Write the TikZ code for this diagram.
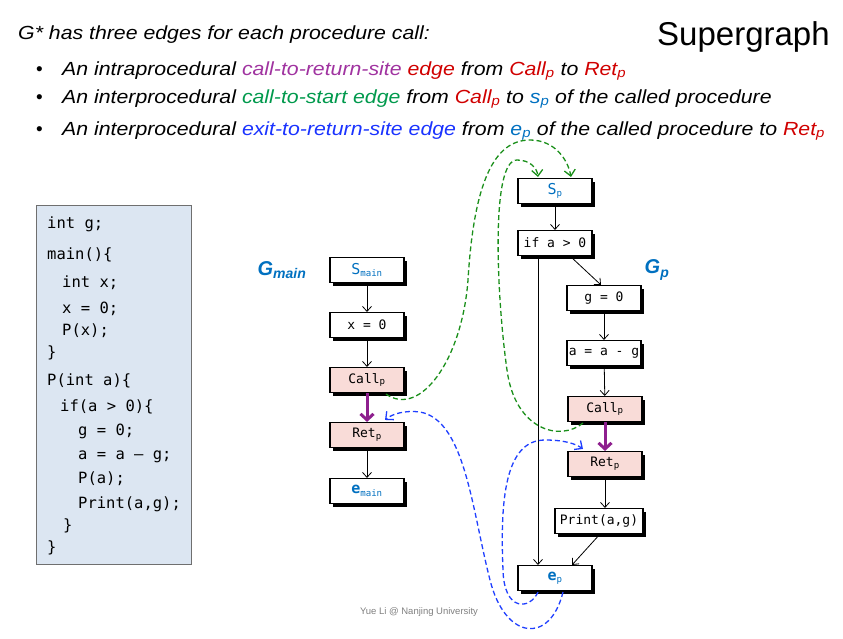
\documentclass[tikz,border=0pt]{standalone}
\usepackage{fontspec}
\setmainfont{Liberation Sans}
\newfontfamily\hdfont[FakeStretch=1.12]{Liberation Sans}
\newfontfamily\codefont{DejaVu Sans Mono}
\usetikzlibrary{arrows.meta,calc}
\definecolor{tpurple}{HTML}{A033A0}
\definecolor{tred}{HTML}{D00000}
\definecolor{tgreen}{HTML}{00994C}
\definecolor{tblue}{HTML}{0070C0}
\definecolor{tbright}{HTML}{1A33FF}
\definecolor{egreen}{HTML}{1A8F1A}
\definecolor{eblue}{HTML}{1F3FFF}
\definecolor{epurple}{HTML}{8E1F8E}
\definecolor{pinkfill}{HTML}{F9DCD8}
\definecolor{codefill}{HTML}{DCE6F2}
\definecolor{codeborder}{HTML}{6F6F6F}
\tikzset{
  txt/.style={inner sep=0pt, anchor=base west},
  hdtext/.style={txt, font=\fontsize{19}{22}\hdfont\itshape},
  codeline/.style={inner sep=0pt, anchor=base west, font=\fontsize{15.5}{17}\codefont},
  stmt/.style={draw=black, line width=1.1pt, fill=white, minimum width=74pt, minimum height=25pt, inner sep=1pt,
    font=\fontsize{13}{14}\codefont,
    preaction={draw=none, fill=black, transform canvas={xshift=3pt, yshift=-3pt}}},
  callbox/.style={stmt, fill=pinkfill},
  flow/.style={-{Straight Barb[length=5pt,width=9pt]}, line width=0.8pt, black},
  cte/.style={-{Straight Barb[length=6pt,width=13pt]}, line width=3pt, epurple},
  green dash/.style={-{Straight Barb[length=6pt,width=11pt, line width=1.3pt]}, line width=1.3pt, egreen, dash pattern=on 5pt off 3pt},
  blue dash/.style={-{Straight Barb[length=6pt,width=11pt, line width=1.3pt]}, line width=1.3pt, eblue, dash pattern=on 5pt off 3pt},
  glabel/.style={inner sep=0pt, text=tblue, font=\fontsize{20}{22}\selectfont\bfseries\itshape}
}
\newcommand{\sub}[1]{\textsubscript{#1}}
\begin{document}
\begin{tikzpicture}[x=1pt,y=-1pt]
\useasboundingbox (0,0) rectangle (843,638);

% header text
\node[hdtext] (title) at (18,39) {G* has three edges for each procedure call:};
\node[txt, font=\fontsize{33}{36}\selectfont] (super) at (657,45) {Supergraph};
\node[txt, font=\fontsize{19}{22}\selectfont] (b1) at (36,75) {•};
\node[txt, font=\fontsize{19}{22}\selectfont] (b2) at (36,103) {•};
\node[txt, font=\fontsize{19}{22}\selectfont] (b3) at (36,135) {•};
\node[hdtext] (l1) at (62,75) {An intraprocedural \textcolor{tpurple}{call-to-return-site} \textcolor{tred}{edge} from \textcolor{tred}{Call\sub{p}} to \textcolor{tred}{Ret\sub{p}}};
\node[hdtext] (l2) at (62,103) {An interprocedural \textcolor{tgreen}{call-to-start edge} from \textcolor{tred}{Call\sub{p}} to \textcolor{tblue}{s\sub{p}} of the called procedure};
\node[hdtext] (l3) at (62,135) {An interprocedural \textcolor{tbright}{exit-to-return-site edge} from \textcolor{tblue}{e\sub{p}} of the called procedure to \textcolor{tred}{Ret\sub{p}}};

% code box
\node[draw=codeborder, line width=1pt, fill=codefill, minimum width=155pt, minimum height=359pt, inner sep=0pt] (codebox) at (113.5,384.5) {};
\node[codeline] (c1) at (47,228) {int g;};
\node[codeline] (c2) at (47,259) {main()\{};
\node[codeline] (c3) at (62,287) {int x;};
\node[codeline] (c4) at (62,313) {x = 0;};
\node[codeline] (c5) at (62,335) {P(x);};
\node[codeline] (c6) at (47,357) {\}};
\node[codeline] (c7) at (47,385) {P(int a)\{};
\node[codeline] (c8) at (60,411) {if(a > 0)\{};
\node[codeline] (c9) at (78,435) {g = 0;};
\node[codeline] (c10) at (78,459) {a = a – g;};
\node[codeline] (c11) at (78,483) {P(a);};
\node[codeline] (c12) at (78,508) {Print(a,g);};
\node[codeline] (c13) at (63,530) {\}};
\node[codeline] (c14) at (47,552) {\}};

% labels
\node[glabel] (gmain) at (282,270) {G\textsubscript{main}};
\node[glabel] (gp) at (657,270) {G\textsubscript{p}};

% G_main nodes
\node[stmt] (smain) at (367,270) {\textcolor{tblue}{{\fontsize{15}{15}\selectfont S}\sub{main}}};
\node[stmt] (x0) at (367,325) {x = 0};
\node[callbox] (mcall) at (367,380) {Call\sub{p}};
\node[callbox] (mret) at (367,435) {Ret\sub{p}};
\node[stmt] (emain) at (367,491) {\textcolor{tblue}{{\fontsize{15}{15}\selectfont\bfseries e}\sub{main}}};

% G_p nodes
\node[stmt] (sp) at (555,191) {\textcolor{tblue}{{\fontsize{15}{15}\selectfont S}\sub{p}}};
\node[stmt] (ifa) at (555,243) {if a > 0};
\node[stmt] (g0) at (604,298) {g = 0};
\node[stmt] (aag) at (604,353) {a = a - g};
\node[callbox] (gcall) at (605,409) {Call\sub{p}};
\node[callbox] (gret) at (605,464) {Ret\sub{p}};
\node[stmt, minimum width=88pt] (prt) at (599,521) {Print(a,g)};
\node[stmt] (ep) at (555,578) {\textcolor{tblue}{{\fontsize{15}{15}\selectfont\bfseries e}\sub{p}}};

% footer
\node[inner sep=0pt, text=gray, font=\fontsize{9.5}{11}\selectfont] (foot) at (419,612) {Yue Li @ Nanjing University};

% flow edges
\draw[flow] (smain) -- (x0);
\draw[flow] (x0) -- (mcall);
\draw[cte] (mcall) -- (mret);
\draw[flow] (mret) -- (emain);
\draw[flow] (sp) -- (ifa);
\draw[flow] ($(ifa.south)+(15,0)$) -- ($(g0.north)+(-3,0)$);
\draw[flow] ($(ifa.south)+(-17,0)$) -- ($(ep.north)+(-17,0)$);
\draw[flow] (g0) -- (aag);
\draw[flow] (aag) -- (gcall);
\draw[cte] (gcall) -- (gret);
\draw[flow] (gret.south) -- (gret.south |- prt.north);
\draw[flow] ($(prt.south)+(1,0)$) -- ($(ep.north)+(17,0)$);

% green call-to-start edges
\draw[green dash] ($(mcall.south)+(19,1)$) .. controls (420,418) and (462,360) .. (468,280)
  .. controls (474,180) and (495,140) .. (530,140) .. controls (555,140) and (568,160) .. ($(sp.north)+(16,-1)$);
\draw[green dash] ($(gcall.south)+(-22,1)$) .. controls (560,442) and (515,430) .. (507,370)
  .. controls (497,300) and (490,160) .. (517,160) .. controls (530,160) and (537,168) .. ($(sp.north)+(-17,-1)$);

% blue exit-to-return edges
\draw[blue dash] ($(ep.south)+(8,1)$) .. controls (550,645) and (505,640) .. (490,580)
  .. controls (472,510) and (465,420) .. (420,412) .. controls (405,410) and (392,414) .. ($(mret.north)+(18,-2)$);
\draw[blue dash] ($(ep.south)+(-17,1)$) .. controls (530,610) and (504,612) .. (503,570)
  .. controls (500,500) and (505,440) .. (545,440) .. controls (565,440) and (576,444) .. ($(gret.north)+(-22,-2)$);
\end{tikzpicture}
\end{document}
